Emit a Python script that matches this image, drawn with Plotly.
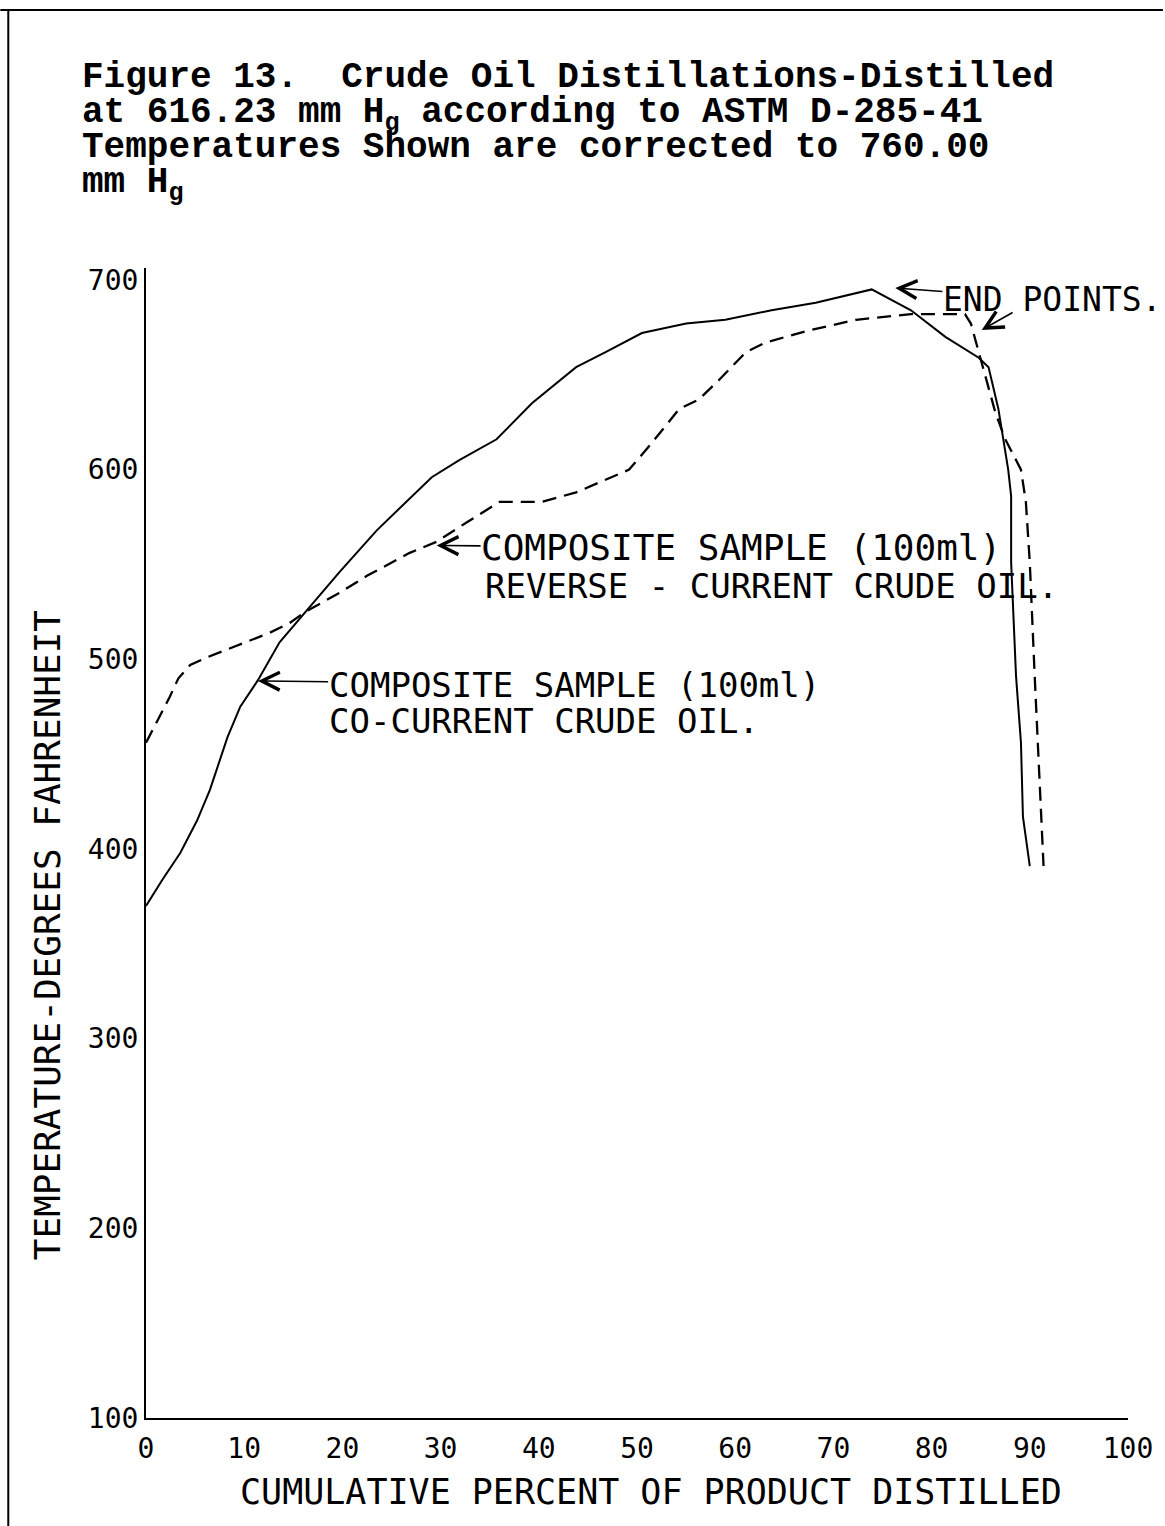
import plotly.graph_objects as go

# ---- data ----
co_x = [0.0, 1.7, 3.5, 5.2, 6.5, 7.3, 8.3, 9.6, 11.4, 13.6, 16.2, 19.7, 23.5, 27.1, 29.1,
        31.9, 35.7, 39.3, 43.8, 46.8, 50.5, 55.0, 59.0, 63.7, 68.2, 73.9, 77.9, 81.4,
        84.8, 85.8, 86.8, 87.8, 88.1, 88.1, 88.6, 89.1, 89.3, 90.0]
co_y = [370, 384, 398, 415, 431, 443, 459, 475, 489, 509, 525, 546, 568, 586, 596,
        605, 616, 635, 654, 662, 672, 677, 679, 684, 688, 695, 684, 670,
        659, 654, 632, 600, 586, 551, 491, 456, 417, 391]

rev_x = [0.0, 1.4, 2.4, 3.3, 4.5, 6.2, 8.2, 10.3, 12.6, 14.6, 16.2, 19.7, 22.5, 26.8,
         29.6, 32.6, 36.0, 40.3, 43.8, 49.2, 51.5, 54.3, 56.3, 58.3, 61.1, 63.1, 67.2,
         72.3, 77.9, 83.4, 84.0, 84.8, 85.5, 86.5, 87.5, 89.1, 89.6, 90.0, 90.5, 90.9, 91.4]
rev_y = [456, 470, 480, 490, 497, 501, 505, 509, 514, 519, 525, 535, 544, 556,
         562, 572, 583, 583, 588, 600, 614, 632, 637, 647, 662, 667, 673,
         679, 682, 682, 677, 662, 649, 630, 616, 600, 583, 551, 491, 447, 391]

x_ticks = [0, 10, 20, 30, 40, 50, 60, 70, 80, 90, 100]
y_ticks = [100, 200, 300, 400, 500, 600, 700]

title_lines = [
    "Figure 13.  Crude Oil Distillations-Distilled",
    "at 616.23 mm H<sub>g</sub> according to ASTM D-285-41",
    "Temperatures Shown are corrected to 760.00",
    "mm H<sub>g</sub>",
]
x_title = "CUMULATIVE PERCENT OF PRODUCT DISTILLED"
y_title = "TEMPERATURE-DEGREES FAHRENHEIT"

LETTER = "DejaVu Sans Mono"
TYPE = "Liberation Mono"

# ---- geometry ----
W, H = 1165, 1526
ML, MR, MT, MB = 146, 35, 268, 108
PW, PH = W - ML - MR, H - MT - MB


def px_to_paper_x(px):
    return (px - ML) / PW


def py_to_paper_y(py):
    return (H - MB - py) / PH


fig = go.Figure()
fig.add_trace(go.Scatter(x=co_x, y=co_y, mode="lines",
                         line=dict(color="black", width=2), name="co-current",
                         showlegend=False))
fig.add_trace(go.Scatter(x=rev_x, y=rev_y, mode="lines",
                         line=dict(color="black", width=2.3, dash="14px,8px"),
                         name="reverse-current", showlegend=False))

annotations = []
# title (typewritten)
title_centers = [75, 110, 145, 180]
for line, cy in zip(title_lines, title_centers):
    annotations.append(dict(text=line, xref="paper", yref="paper",
                            x=px_to_paper_x(80), y=py_to_paper_y(cy - 20),
                            xanchor="left", yanchor="top", showarrow=False,
                            font=dict(family=TYPE, size=36, color="black", weight="bold")))

# axis titles
annotations.append(dict(text=x_title, xref="paper", yref="paper",
                        x=px_to_paper_x(652), y=py_to_paper_y(1492),
                        xanchor="center", yanchor="middle", showarrow=False,
                        font=dict(family=LETTER, size=35, color="black")))
annotations.append(dict(text=y_title, xref="paper", yref="paper",
                        x=px_to_paper_x(47), y=py_to_paper_y(935),
                        xanchor="center", yanchor="middle", showarrow=False,
                        textangle=-90,
                        font=dict(family=LETTER, size=36, color="black")))

arrow_style = dict(showarrow=True, arrowhead=5, arrowsize=2.2, arrowwidth=1.6,
                   arrowcolor="black", standoff=0, borderpad=0)

# labels with arrows: (text, arrow tip x, tip y, label centre x, centre y, size)
for txt, tx, ty, cx, cy, sz in [
    ("COMPOSITE SAMPLE (100ml)", 29.6, 560.0, 60.6, 558.7, 36),
    ("COMPOSITE SAMPLE (100ml)", 11.4, 488.6, 43.6, 486.5, 34),
    ("END POINTS.", 76.3, 695.8, 92.3, 689.5, 33),
]:
    annotations.append(dict(text=txt, x=tx, y=ty, ax=cx, ay=cy,
                            xref="x", yref="y", axref="x", ayref="y",
                            font=dict(family=LETTER, size=sz, color="black"),
                            **arrow_style))

# second lines of labels
for txt, x, y, sz in [
    ("REVERSE - CURRENT CRUDE OIL.", 34.3, 538.7, 34),
    ("CO-CURRENT CRUDE OIL.", 18.4, 467.5, 34),
]:
    annotations.append(dict(text=txt, x=x, y=y, xref="x", yref="y",
                            xanchor="left", yanchor="middle", showarrow=False,
                            font=dict(family=LETTER, size=sz, color="black")))

# second end-point arrow (dashed curve)
annotations.append(dict(text="", x=85.1, y=673.6, ax=88.3, ay=683.0,
                        xref="x", yref="y", axref="x", ayref="y", **arrow_style))

shapes = [
    dict(type="line", xref="paper", yref="paper",
         x0=px_to_paper_x(0), x1=px_to_paper_x(W), y0=py_to_paper_y(10), y1=py_to_paper_y(10),
         line=dict(color="black", width=2)),
    dict(type="line", xref="paper", yref="paper",
         x0=px_to_paper_x(8), x1=px_to_paper_x(8), y0=py_to_paper_y(10), y1=py_to_paper_y(H),
         line=dict(color="black", width=2)),
]

fig.update_layout(
    width=W, height=H,
    margin=dict(l=ML, r=MR, t=MT, b=MB, pad=0),
    paper_bgcolor="white", plot_bgcolor="white",
    annotations=annotations, shapes=shapes,
    xaxis=dict(range=[0, 100], tickvals=x_ticks, ticktext=[str(v) for v in x_ticks],
               showgrid=False, zeroline=False, showline=True, linecolor="black",
               linewidth=2, ticks="", ticklabelstandoff=4,
               tickfont=dict(family=LETTER, size=28, color="black")),
    yaxis=dict(range=[100, 706.3], tickvals=y_ticks, ticktext=[str(v) for v in y_ticks],
               showgrid=False, zeroline=False, showline=True, linecolor="black",
               linewidth=2, ticks="", ticklabelstandoff=0,
               tickfont=dict(family=LETTER, size=28, color="black")),
)

fig.write_html("out.html")
